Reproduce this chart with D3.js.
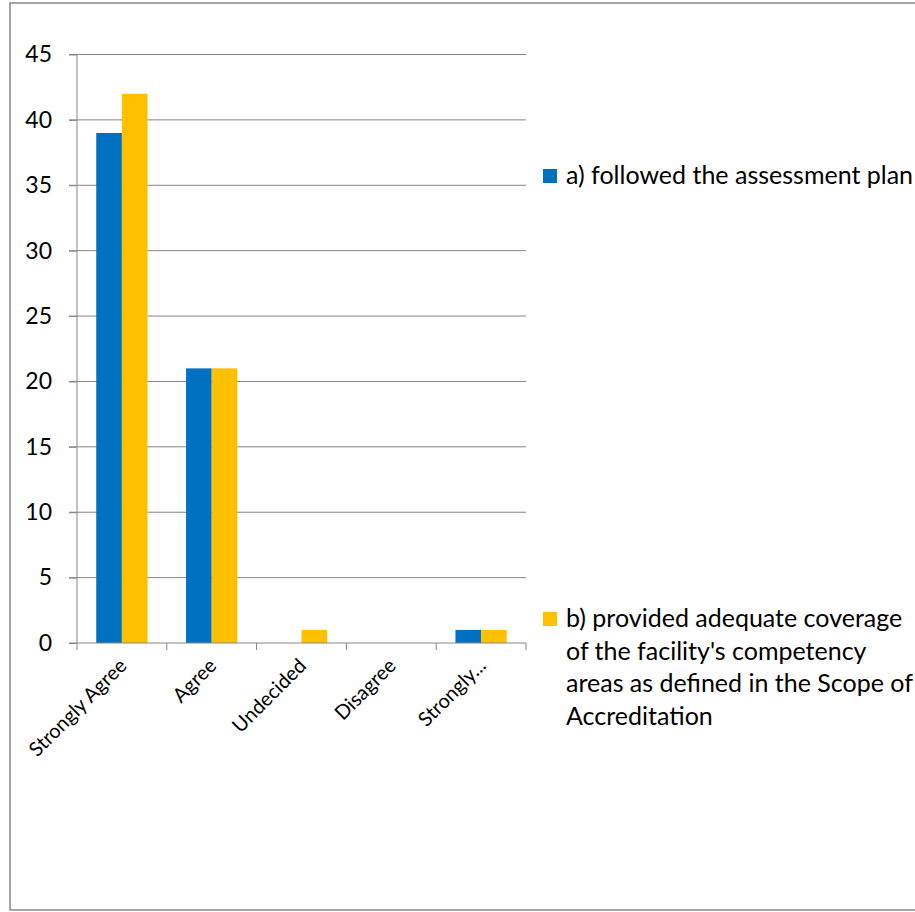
<!DOCTYPE html>
<html><head><meta charset="utf-8">
<script src="https://cdn.jsdelivr.net/npm/d3@7"></script>
<style>html,body{margin:0;padding:0;background:#fff;}svg{display:block;}</style>
</head><body>
<svg id="c" width="915" height="912"></svg>
<script>
const categories = ["Strongly Agree", "Agree", "Undecided", "Disagree", "Strongly..."];
const seriesNames = ["a) followed the assessment plan", "b) provided adequate coverage of the facility's competency areas as defined in the Scope of Accreditation"];
const seriesA = [39, 21, 0, 0, 1];
const seriesB = [42, 21, 1, 0, 1];
const colors = ["#0070C0", "#FFC000"];
const yTicks = [0, 5, 10, 15, 20, 25, 30, 35, 40, 45];
const legendLines = [["a) followed the assessment plan"], ["b) provided adequate coverage", "of the facility's competency", "areas as defined in the Scope of", "Accreditation"]];

const font = "Lato, 'Open Sans', sans-serif";
const svg = d3.select("#c");
svg.append("rect").attr("x", 10).attr("y", 3).attr("width", 930).attr("height", 907)
  .attr("fill", "#fff").attr("stroke", "#888").attr("stroke-width", 1.5);

const x0 = d3.scaleBand().domain(categories).range([77, 526]).paddingInner(0).paddingOuter(0);
const x1 = d3.scaleBand().domain([0, 1]).range([0, x0.bandwidth()]).paddingInner(0).paddingOuter(0.75);
const y = d3.scaleLinear().domain([0, 45]).range([643, 54.5]);

// gridlines
svg.append("g").selectAll("line").data(yTicks.filter(d => d > 0)).join("line")
  .attr("x1", 69).attr("x2", 526).attr("y1", d => y(d)).attr("y2", d => y(d))
  .attr("stroke", "#868686").attr("stroke-width", 1);

// y axis
const yAxis = svg.append("g").attr("transform", "translate(77,0)")
  .call(d3.axisLeft(y).tickValues(yTicks).tickSize(8).tickPadding(17));
yAxis.select(".domain").attr("stroke", "#868686").attr("d", `M0,${y(45)}V${y(0)}`);
yAxis.selectAll(".tick line").attr("stroke", "#868686");
yAxis.selectAll("text").attr("font-family", font).attr("font-size", 23).attr("fill", "#000");

// bars
const data = categories.map((c, i) => ({c, v: [seriesA[i], seriesB[i]]}));
const groups = svg.append("g").selectAll("g").data(data).join("g")
  .attr("transform", d => `translate(${x0(d.c)},0)`);
groups.selectAll("rect").data(d => d.v.map((v, k) => ({v, k}))).join("rect")
  .attr("x", d => x1(d.k)).attr("width", x1.bandwidth())
  .attr("y", d => y(d.v)).attr("height", d => y(0) - y(d.v))
  .attr("fill", d => colors[d.k]);

// x axis
const xAxis = svg.append("g").attr("transform", `translate(0,${y(0)})`);
xAxis.append("line").attr("x1", 69).attr("x2", 526).attr("y1", 0).attr("y2", 0).attr("stroke", "#868686");
const tickXs = categories.map(c => x0(c)).concat([x0.range()[1]]);
xAxis.selectAll("line.t").data(tickXs).join("line").attr("class", "t")
  .attr("x1", d => d).attr("x2", d => d).attr("y1", 0).attr("y2", 7).attr("stroke", "#868686");
xAxis.selectAll("text").data(categories).join("text")
  .attr("transform", d => `translate(${x0(d) + x0.bandwidth() / 2 + 6},${24}) rotate(-45)`)
  .attr("text-anchor", "end").attr("font-family", font).attr("font-size", 20).attr("fill", "#000")
  .text(d => d);

// legend
const legY = [169, 612];
legendLines.forEach((lines, k) => {
  svg.append("rect").attr("x", 543).attr("y", legY[k]).attr("width", 14).attr("height", 14).attr("fill", colors[k]);
  const t = svg.append("text").attr("font-family", font).attr("font-size", 25).attr("fill", "#000");
  lines.forEach((ln, j) => {
    t.append("tspan").attr("x", 566).attr("y", legY[k] + 15 + j * 32.7).text(ln);
  });
});
</script>
</body></html>
